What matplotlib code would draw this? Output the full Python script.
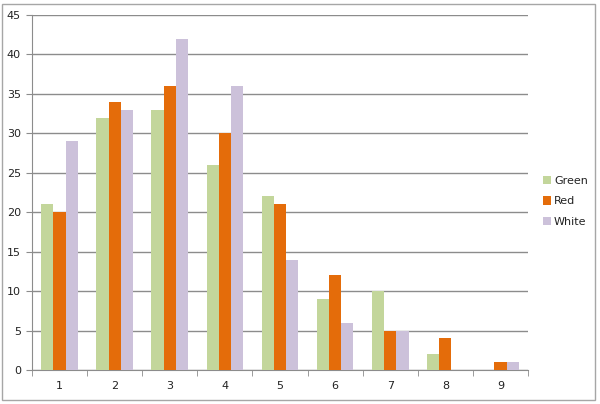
import numpy as np
import matplotlib.pyplot as plt
from matplotlib.patches import Rectangle

# values
categories = [1, 2, 3, 4, 5, 6, 7, 8, 9]
green = [21, 32, 33, 26, 22, 9, 10, 2, 0]
red = [20, 34, 36, 30, 21, 12, 5, 4, 1]
white = [29, 33, 42, 36, 14, 6, 5, 0, 1]

series = [('Green', green, '#C3D69B'),
          ('Red', red, '#E46C0A'),
          ('White', white, '#CCC1DA')]

fig = plt.figure(figsize=(6, 4.04), dpi=100)
fig.patch.set_facecolor('white')

# outer chart border
fig.patches.append(Rectangle((2 / 600, 4 / 404), 593 / 600, 396 / 404,
                             transform=fig.transFigure, fill=False,
                             edgecolor='#A6A6A6', linewidth=1))

ax = fig.add_axes([32 / 600, 34 / 404, 496 / 600, 355 / 404])

x = np.arange(len(categories)) + 1
w = 1 / 4.5
for i, (name, vals, col) in enumerate(series):
    ax.bar(x + (i - 1) * w, vals, width=w, color=col, label=name, zorder=3)

ax.set_xlim(0.5, len(categories) + 0.5)
ax.set_ylim(0, 45)
ax.set_yticks(range(0, 46, 5))
ax.set_xticks(x)
ax.set_xticklabels([str(c) for c in categories])
ax.set_xticks(np.arange(0.5, len(categories) + 1, 1), minor=True)

ax.yaxis.grid(True, color='#8C8C8C', linewidth=1, zorder=0)
for s in ['top', 'right']:
    ax.spines[s].set_visible(False)
ax.spines['left'].set_color('#8C8C8C')
ax.spines['bottom'].set_color('#8C8C8C')

ax.tick_params(axis='y', length=4, color='#8C8C8C', labelsize=8, pad=4,
               labelcolor='#222222')
ax.tick_params(axis='x', which='major', length=0, labelsize=8, pad=8,
               labelcolor='#222222')
ax.tick_params(axis='x', which='minor', length=4, color='#8C8C8C')

ax.legend(loc='center left', bbox_to_anchor=(1.01, 0.475), frameon=False,
          fontsize=8, handlelength=0.75, handleheight=0.75, handletextpad=0.25,
          labelspacing=0.95, labelcolor='#222222')

fig.savefig('out.png', dpi=100)
